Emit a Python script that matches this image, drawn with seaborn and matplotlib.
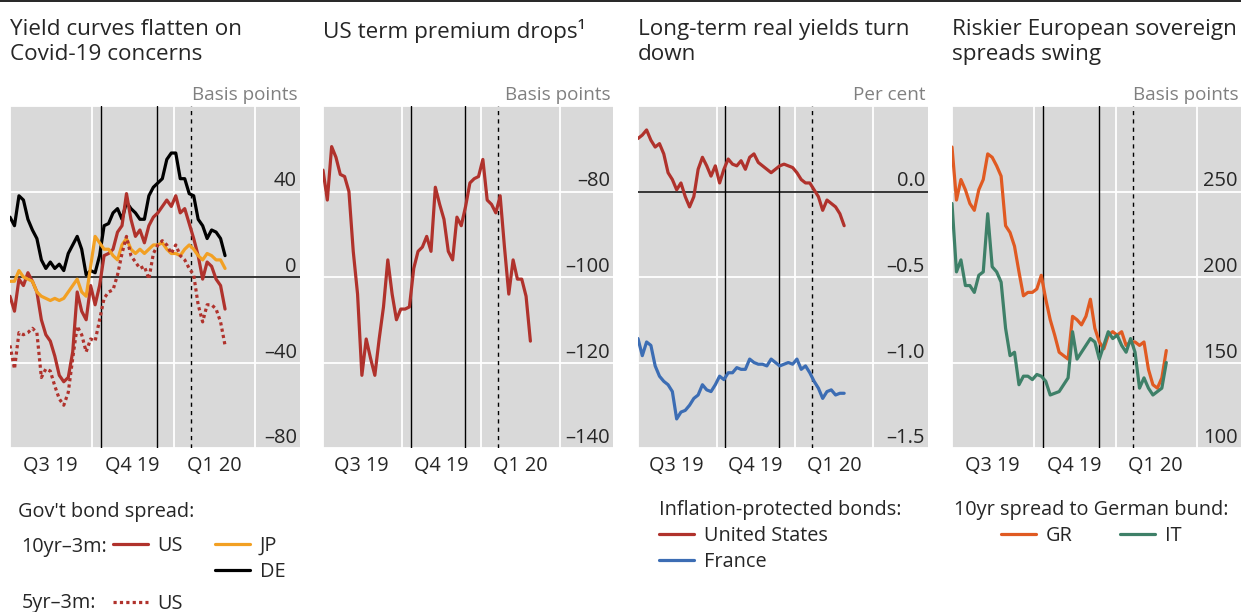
import pandas as pd
import matplotlib
matplotlib.use("Agg")
import matplotlib.pyplot as plt
from matplotlib.lines import Line2D
import seaborn as sns

# common daily-ish grid, Jul 2019 - end Feb 2020
dates = pd.date_range("2019-07-01", "2020-02-27", periods=49)

# panel 1: government bond spreads, basis points
de_10y3m = [28, 24, 38, 36, 27, 22, 18, 8, 4, 7, 4, 6, 3, 11, 15, 19, 13, 1, 3, 2,
            10, 24, 25, 30, 32, 27, 35, 32, 30, 27, 27, 38, 42, 44, 46, 55, 58, 58, 46, 46,
            39, 38, 27, 24, 18, 22, 21, 18, 10]
us_10y3m = [-9, -16, -1, -4, 2, -2, -7, -20, -27, -30, -37, -46, -49, -47, -35, -7, -16, -20, -4, -13,
            -4, 10, 11, 13, 21, 24, 39, 27, 19, 22, 16, 24, 28, 30, 33, 36, 33, 38, 30, 32,
            25, 18, 10, -1, 7, 5, -1, -4, -15]
us_5y3m = [-32, -43, -26, -27, -26, -24, -26, -47, -43, -44, -51, -57, -60, -54, -38, -23, -27, -35, -29, -30,
           -20, -10, -7, -6, 1, 11, 19, 10, 7, 4, 5, -1, 11, 15, 17, 15, 11, 15, 10, 8,
           4, 1, -13, -21, -13, -13, -15, -21, -32]
jp_10y3m = [-2, -2, 3, 0, -1, -2, -7, -9, -10, -11, -10, -11, -10, -7, -4, -1, -7, -9, 5, 19,
            16, 13, 13, 10, 8, 15, 18, 13, 11, 13, 11, 13, 15, 15, 16, 13, 11, 11, 10, 13,
            15, 13, 10, 8, 11, 10, 8, 8, 4]

# panel 2: US term premium, basis points
term_premium = [-75, -82, -69.5, -72, -76, -76.5, -80, -94, -104, -123, -114.5, -119, -123, -114.5, -107,
                -96, -104, -110, -107.5, -107.5, -107, -98, -94, -93, -90.5, -94, -79, -83, -86.5, -94,
                -96, -86, -88, -83.5, -78, -77, -76.5, -72.5, -82, -83, -85, -81, -93, -104, -96,
                -100.5, -100.5, -104.5, -115]

# panel 3: real yields, per cent
us_real = [0.31, 0.33, 0.36, 0.30, 0.26, 0.28, 0.22, 0.11, 0.07, 0.01, 0.05, -0.03, -0.09, -0.03, 0.13,
           0.20, 0.15, 0.09, 0.15, 0.05, 0.13, 0.19, 0.16, 0.15, 0.18, 0.13, 0.20, 0.22, 0.17, 0.15,
           0.13, 0.11, 0.13, 0.15, 0.16, 0.15, 0.14, 0.11, 0.07, 0.05, 0.05, 0.01, -0.03, -0.11, -0.05,
           -0.07, -0.09, -0.13, -0.20]
fr_real = [-0.86, -0.96, -0.88, -0.90, -1.02, -1.08, -1.11, -1.13, -1.17, -1.33, -1.29, -1.28, -1.25, -1.21,
           -1.19, -1.13, -1.16, -1.17, -1.13, -1.08, -1.10, -1.06, -1.06, -1.03, -1.04, -1.04, -0.98, -1.00,
           -1.01, -1.01, -1.02, -0.98, -1.00, -1.02, -1.01, -1.00, -1.01, -0.98, -1.04, -1.02, -1.06, -1.11,
           -1.15, -1.21, -1.17, -1.16, -1.19, -1.18, -1.18]

# panel 4: 10yr spread to bund, basis points
gr_spread = [276, 245, 257, 251, 243, 239, 251, 257, 272, 270, 265, 259, 230, 226, 218, 203, 189, 191, 191, 193,
             201, 187, 175, 166, 156, 154, 152, 177, 175, 172, 177, 187, 170, 162, 158, 166, 168, 166, 168, 160,
             162, 162, 160, 162, 146, 137, 135, 141, 157]
it_spread = [243, 203, 210, 195, 195, 191, 201, 203, 237, 206, 203, 197, 170, 154, 156, 137, 142, 142, 140, 143,
             142, 139, 131, 132, 133, 137, 141, 168, 152, 156, 160, 164, 162, 152, 160, 168, 164, 166, 160, 156,
             164, 156, 135, 141, 135, 131, 133, 135, 150]

quarter_starts = ["2019-07-01", "2019-10-01", "2020-01-01", "2020-04-01"]
quarter_mids = ["2019-08-15", "2019-11-15", "2020-02-15"]
quarter_labels = ["Q3 19", "Q4 19", "Q1 20"]
event_dates = ["2019-10-11", "2019-12-13"]
covid_date = "2020-01-20"

RED = "#b0322c"
JP_ORANGE = "#f2a023"
BLUE = "#3c6db4"
GR_ORANGE = "#e05a22"
IT_GREEN = "#3e8068"
BG = "#d9d9d9"

sns.set_style("white")
plt.rcParams["font.family"] = ["Open Sans", "DejaVu Sans"]

W, H = 1241, 612
fig = plt.figure(figsize=(W / 100, H / 100), dpi=100)


def make_panel(x0, x1, xend, ylim, yticks, labels, unit, title, zero=None):
    ax = fig.add_axes([x0 / W, 1 - 448 / H, (x1 - x0) / W, (448 - 106) / H])
    ax.set_facecolor(BG)
    for s in ax.spines.values():
        s.set_visible(False)
    ax.set_xlim(pd.Timestamp("2019-07-01"), pd.Timestamp(xend))
    ax.set_ylim(*ylim)
    ax.set_yticks(yticks)
    ax.set_xticks([pd.Timestamp(d) for d in quarter_starts], labels=[""] * 4)
    ax.set_xticks([pd.Timestamp(d) for d in quarter_mids], labels=quarter_labels, minor=True)
    ax.grid(True, which="major", color="white", lw=1.3, zorder=0)
    ax.set_axisbelow(True)
    ax.tick_params(axis="y", length=0, labelleft=False, labelright=False)
    ax.tick_params(axis="x", which="major", direction="in", length=10, width=1.3, color="#555555")
    ax.tick_params(axis="x", which="minor", direction="out", length=2, width=0.8, color="#bbbbbb",
                   labelsize=14.3, pad=4)
    if zero is not None:
        ax.axhline(zero, color="black", lw=1.1, zorder=1)
    for d in event_dates:
        ax.axvline(pd.Timestamp(d), color="black", lw=1.0, zorder=1)
    ax.axvline(pd.Timestamp(covid_date), color="black", lw=1.0, ls=(0, (3, 3)), zorder=1)
    for v, s in labels:
        ax.annotate(s, xy=(1, v), xycoords=ax.get_yaxis_transform(), xytext=(-3, 5),
                    textcoords="offset pixels", ha="right", va="baseline", fontsize=14.5)
    ax.annotate(unit, xy=(1, 1), xycoords="axes fraction", xytext=(-2, 6),
                textcoords="offset pixels", ha="right", va="baseline", fontsize=13.6, color="#808080")
    fig.text(x0 / W, 1 - 19 / H, title, ha="left", va="top", fontsize=16.2, linespacing=1.24)
    return ax


ax1 = make_panel(10, 300, "2020-05-21", (-80, 80), [-80, -40, 0, 40, 80],
                 [(40, "40"), (0, "0"), (-40, "–40"), (-80, "–80")], "Basis points",
                 "Yield curves flatten on\nCovid-19 concerns", zero=0)
ax2 = make_panel(323, 613, "2020-06-02", (-140, -60), [-140, -120, -100, -80, -60],
                 [(-80, "–80"), (-100, "–100"), (-120, "–120"), (-140, "–140")], "Basis points",
                 "US term premium drops\u00b9")
ax3 = make_panel(638, 928, "2020-06-04", (-1.5, 0.5), [-1.5, -1.0, -0.5, 0.0, 0.5],
                 [(0.0, "0.0"), (-0.5, "–0.5"), (-1.0, "–1.0"), (-1.5, "–1.5")], "Per cent",
                 "Long-term real yields turn\ndown", zero=0.0)
ax4 = make_panel(952, 1241, "2020-05-21", (100, 300), [100, 150, 200, 250, 300],
                 [(250, "250"), (200, "200"), (150, "150"), (100, "100")], "Basis points",
                 "Riskier European sovereign\nspreads swing")

lw = 2.3
sns.lineplot(x=dates, y=de_10y3m, ax=ax1, color="black", lw=lw, label="DE", legend=False, zorder=3)
sns.lineplot(x=dates, y=us_10y3m, ax=ax1, color=RED, lw=lw, label="US", legend=False, zorder=3)
sns.lineplot(x=dates, y=jp_10y3m, ax=ax1, color=JP_ORANGE, lw=lw, label="JP", legend=False, zorder=3)
sns.lineplot(x=dates, y=us_5y3m, ax=ax1, color=RED, lw=lw, ls=(0, (1, 1)), label="US", legend=False, zorder=3)

sns.lineplot(x=dates, y=term_premium, ax=ax2, color=RED, lw=lw, legend=False, zorder=3)

sns.lineplot(x=dates, y=us_real, ax=ax3, color=RED, lw=lw, label="United States", legend=False, zorder=3)
sns.lineplot(x=dates, y=fr_real, ax=ax3, color=BLUE, lw=lw, label="France", legend=False, zorder=3)

sns.lineplot(x=dates, y=gr_spread, ax=ax4, color=GR_ORANGE, lw=lw, label="GR", legend=False, zorder=3)
sns.lineplot(x=dates, y=it_spread, ax=ax4, color=IT_GREEN, lw=lw, label="IT", legend=False, zorder=3)

for ax in (ax1, ax2, ax3, ax4):
    ax.set_xlabel("")
    ax.set_ylabel("")

# legends
lines1 = ax1.get_lines()
de_h, us_h, jp_h, us5_h = [l for l in lines1 if l.get_label() in ("DE", "US", "JP")]
blank = Line2D([], [], alpha=0)
FS = 14.3
leg_kw = dict(frameon=False, fontsize=FS, handlelength=1.75, handletextpad=0.5, borderpad=0,
              borderaxespad=0, labelspacing=0.3, bbox_transform=fig.transFigure, loc="upper left")

fig.text(18 / W, 1 - 512 / H, "Gov't bond spread:", ha="left", va="center", fontsize=FS)
fig.text(21 / W, 1 - 547 / H, "10yr–3m:", ha="left", va="center", fontsize=FS)
fig.text(22 / W, 1 - 603 / H, "5yr–3m:", ha="left", va="center", fontsize=FS)
l1 = ax1.legend([us_h, blank, jp_h, de_h], ["US", "", "JP", "DE"], ncol=2, columnspacing=1.6,
                bbox_to_anchor=(113 / W, 1 - 536 / H), **leg_kw)
ax1.add_artist(l1)
ax1.legend([us5_h], ["US"], bbox_to_anchor=(113 / W, 1 - 594 / H), **leg_kw)

l3 = ax3.legend(title="Inflation-protected bonds:", title_fontsize=FS, alignment="left",
                bbox_to_anchor=(659 / W, 1 - 500 / H), **leg_kw)
l4 = ax4.legend(title="10yr spread to German bund:", title_fontsize=FS, alignment="center", ncol=2,
                columnspacing=2.4, bbox_to_anchor=(954 / W, 1 - 500 / H), **leg_kw)

fig.add_artist(Line2D([0, 1], [1 - 1 / H, 1 - 1 / H], color="black", lw=1.2))

fig.savefig("out.png", dpi=100)
